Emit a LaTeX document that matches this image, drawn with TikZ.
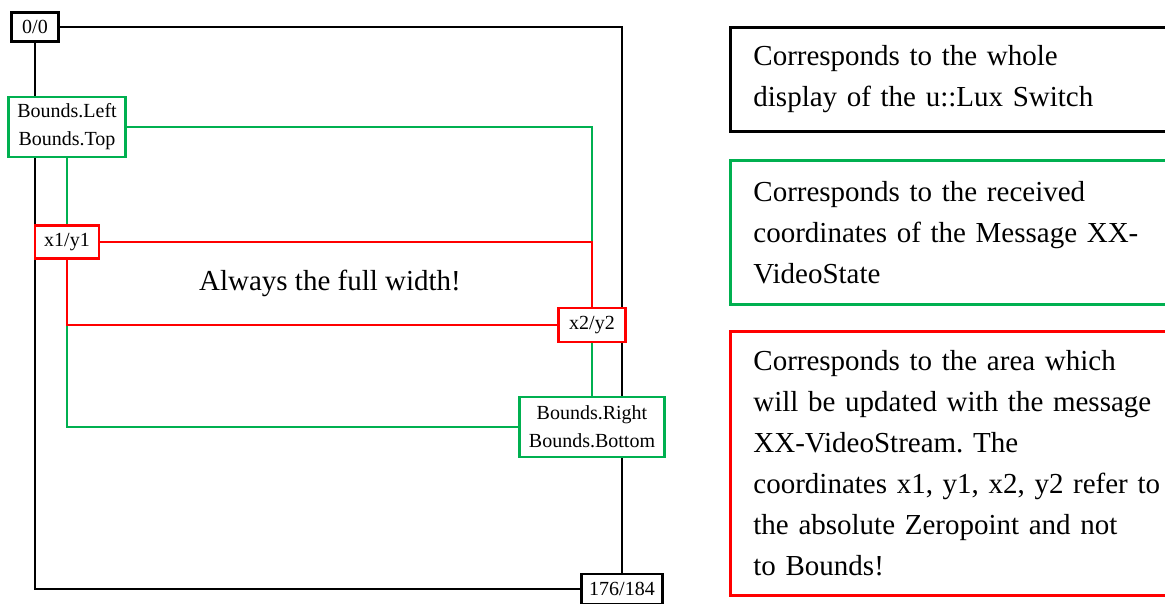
\documentclass[tikz,border=0pt]{standalone}
\usepackage{fontspec}
\setmainfont{Liberation Serif}
\usetikzlibrary{backgrounds}
\definecolor{gr}{RGB}{0,176,80}
\definecolor{rd}{RGB}{255,0,0}
\frenchspacing
\tikzset{
  lw/.style={line width=2.8pt},
  lbl/.style={draw, lw, fill=white, inner sep=0pt, align=center, font=\fontsize{20}{28}\selectfont},
  desc/.style={draw, lw, anchor=north west, inner xsep=23pt, inner ysep=0pt, text width=430pt, align=left, font=\fontsize{29}{41}\selectfont},
}
\begin{document}
\begin{tikzpicture}[x=1pt,y=-1pt]
\useasboundingbox (0,0) rectangle (1165,603);
% labels
\node[lbl, minimum width=47pt, minimum height=29pt] (Z) at (35,27) {0/0};
\node[lbl, minimum width=81pt, minimum height=30pt] (E) at (622,589) {176/184};
\node[lbl, draw=gr, minimum width=117pt, minimum height=60pt] (BL) at (67,127) {Bounds.Left\\Bounds.Top};
\node[lbl, draw=gr, minimum width=145pt, minimum height=60pt] (BR) at (592,427) {Bounds.Right\\Bounds.Bottom};
\node[lbl, draw=rd, minimum width=64pt, minimum height=33pt] (X1) at (67,242) {x1/y1};
\node[lbl, draw=rd, minimum width=67pt, minimum height=34pt] (X2) at (592,325) {x2/y2};
\node[font=\fontsize{29}{34}\selectfont] (AW) at (330,283) {Always the full width!};
% connectors
\begin{scope}[on background layer]
  \draw[lw, black] (Z.east) -| (E.north);
  \draw[lw, black] (Z.south) |- (E.west);
  \draw[lw, gr] (BL.east) -| (BR.north);
  \draw[lw, gr] (BL.south) |- (BR.west);
  \draw[lw, rd] (X1.east) -| (X2.north);
  \draw[lw, rd] (X1.south) |- (X2.west);
\end{scope}
% descriptions
\node[desc, minimum height=104pt] (D1) at (729,26) {Corresponds to the whole\\display of the u::Lux Switch};
\node[desc, draw=gr, minimum height=144pt] (D2) at (729,159) {Corresponds to the received\\coordinates of the Message XX-\\VideoState};
\node[desc, draw=rd, minimum height=264pt] (D3) at (729,330) {Corresponds to the area which\\will be updated with the message\\XX-VideoStream. The\\coordinates x1, y1, x2, y2 refer to\\the absolute Zeropoint and not\\to Bounds!};
\end{tikzpicture}
\end{document}
